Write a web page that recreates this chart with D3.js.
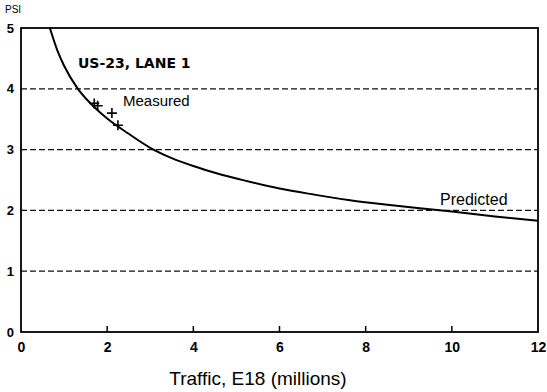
<!DOCTYPE html>
<html>
<head>
<meta charset="utf-8">
<script src="https://cdn.jsdelivr.net/npm/d3@7"></script>
<style>
  html, body { margin: 0; padding: 0; background: #fff; }
  svg { display: block; font-family: "Liberation Sans", Arial, sans-serif; }
</style>
</head>
<body>
<svg id="chart" width="547" height="392"></svg>
<script>
// Predicted serviceability curve (traffic in millions of E18, PSI)
const predictedTraffic = [0.67, 0.85, 1.0, 1.3, 1.7, 2.0, 2.5, 3.0, 3.5, 4.0, 4.5, 5.2, 6.0, 6.8, 7.6, 8.4, 9.2, 10.0, 11.0, 12.0];
const predictedPSI     = [5.0, 4.62, 4.38, 4.02, 3.7, 3.51, 3.26, 3.03, 2.86, 2.73, 2.62, 2.49, 2.36, 2.26, 2.17, 2.1, 2.04, 1.98, 1.9, 1.83];

// Measured PSI values
const measuredTraffic = [1.7, 1.78, 2.11, 2.25];
const measuredPSI     = [3.76, 3.72, 3.60, 3.40];

const xTicks = [0, 2, 4, 6, 8, 10, 12];
const yTicks = [0, 1, 2, 3, 4, 5];
const gridLevels = [1, 2, 3, 4];

const svg = d3.select("#chart");
const plotLeft = 21, plotRight = 538, plotTop = 28, plotBottom = 332;

const x = d3.scaleLinear().domain([0, 12]).range([plotLeft, plotRight]);
const y = d3.scaleLinear().domain([0, 5]).range([plotBottom, plotTop]);

// dashed horizontal gridlines
svg.selectAll("line.grid").data(gridLevels).enter().append("line")
  .attr("class", "grid")
  .attr("x1", plotLeft).attr("x2", plotRight)
  .attr("y1", d => y(d)).attr("y2", d => y(d))
  .attr("stroke", "#111").attr("stroke-width", 1.2)
  .attr("stroke-dasharray", "6,3");

// frame
svg.append("rect")
  .attr("x", plotLeft).attr("y", plotTop)
  .attr("width", plotRight - plotLeft).attr("height", plotBottom - plotTop)
  .attr("fill", "none").attr("stroke", "#000").attr("stroke-width", 1.8);

// x axis ticks (inward) and labels
const xAxis = d3.axisBottom(x).tickValues(xTicks).tickSize(0).tickPadding(10)
  .tickFormat(d3.format("d"));
const gx = svg.append("g").attr("transform", `translate(0,${plotBottom})`).call(xAxis);
gx.select(".domain").remove();
gx.selectAll("text").attr("font-size", 14).attr("font-weight", "bold").attr("fill", "#000");
svg.selectAll("line.xtick").data(xTicks.slice(1, -1)).enter().append("line")
  .attr("class", "xtick")
  .attr("x1", d => x(d)).attr("x2", d => x(d))
  .attr("y1", plotBottom).attr("y2", plotBottom - 6)
  .attr("stroke", "#000").attr("stroke-width", 1.5);

// y axis labels
const yAxis = d3.axisLeft(y).tickValues(yTicks).tickSize(0).tickPadding(7)
  .tickFormat(d3.format("d"));
const gy = svg.append("g").attr("transform", `translate(${plotLeft},0)`).call(yAxis);
gy.select(".domain").remove();
gy.selectAll("text").attr("font-size", 13).attr("font-weight", "bold").attr("fill", "#000");

// axis titles
svg.append("text").attr("x", 5).attr("y", 13)
  .attr("font-size", 10).attr("fill", "#000").text("PSI");
svg.append("text").attr("x", 258).attr("y", 385)
  .attr("text-anchor", "middle").attr("font-size", 19).attr("fill", "#000")
  .text("Traffic, E18 (millions)");

// predicted curve
const pts = predictedTraffic.map((t, i) => [t, predictedPSI[i]]);
svg.append("path").datum(pts)
  .attr("d", d3.line().x(d => x(d[0])).y(d => y(d[1])).curve(d3.curveMonotoneX))
  .attr("fill", "none").attr("stroke", "#000").attr("stroke-width", 2);

// measured points as plus marks
const meas = measuredTraffic.map((t, i) => [t, measuredPSI[i]]);
svg.selectAll("path.meas").data(meas).enter().append("path")
  .attr("class", "meas")
  .attr("d", d => `M${x(d[0]) - 5},${y(d[1])}h10M${x(d[0])},${y(d[1]) - 5}v10`)
  .attr("stroke", "#000").attr("stroke-width", 1.6);

// annotations
svg.append("text").attr("x", 78).attr("y", 68)
  .attr("font-family", "DejaVu Sans").attr("font-size", 14).attr("font-weight", "bold")
  .attr("fill", "#000").text("US-23, LANE 1");
svg.append("text").attr("x", 123).attr("y", 106)
  .attr("font-size", 15).attr("fill", "#000").text("Measured");
svg.append("text").attr("x", 440).attr("y", 205)
  .attr("font-size", 16).attr("fill", "#000").text("Predicted");
</script>
</body>
</html>
